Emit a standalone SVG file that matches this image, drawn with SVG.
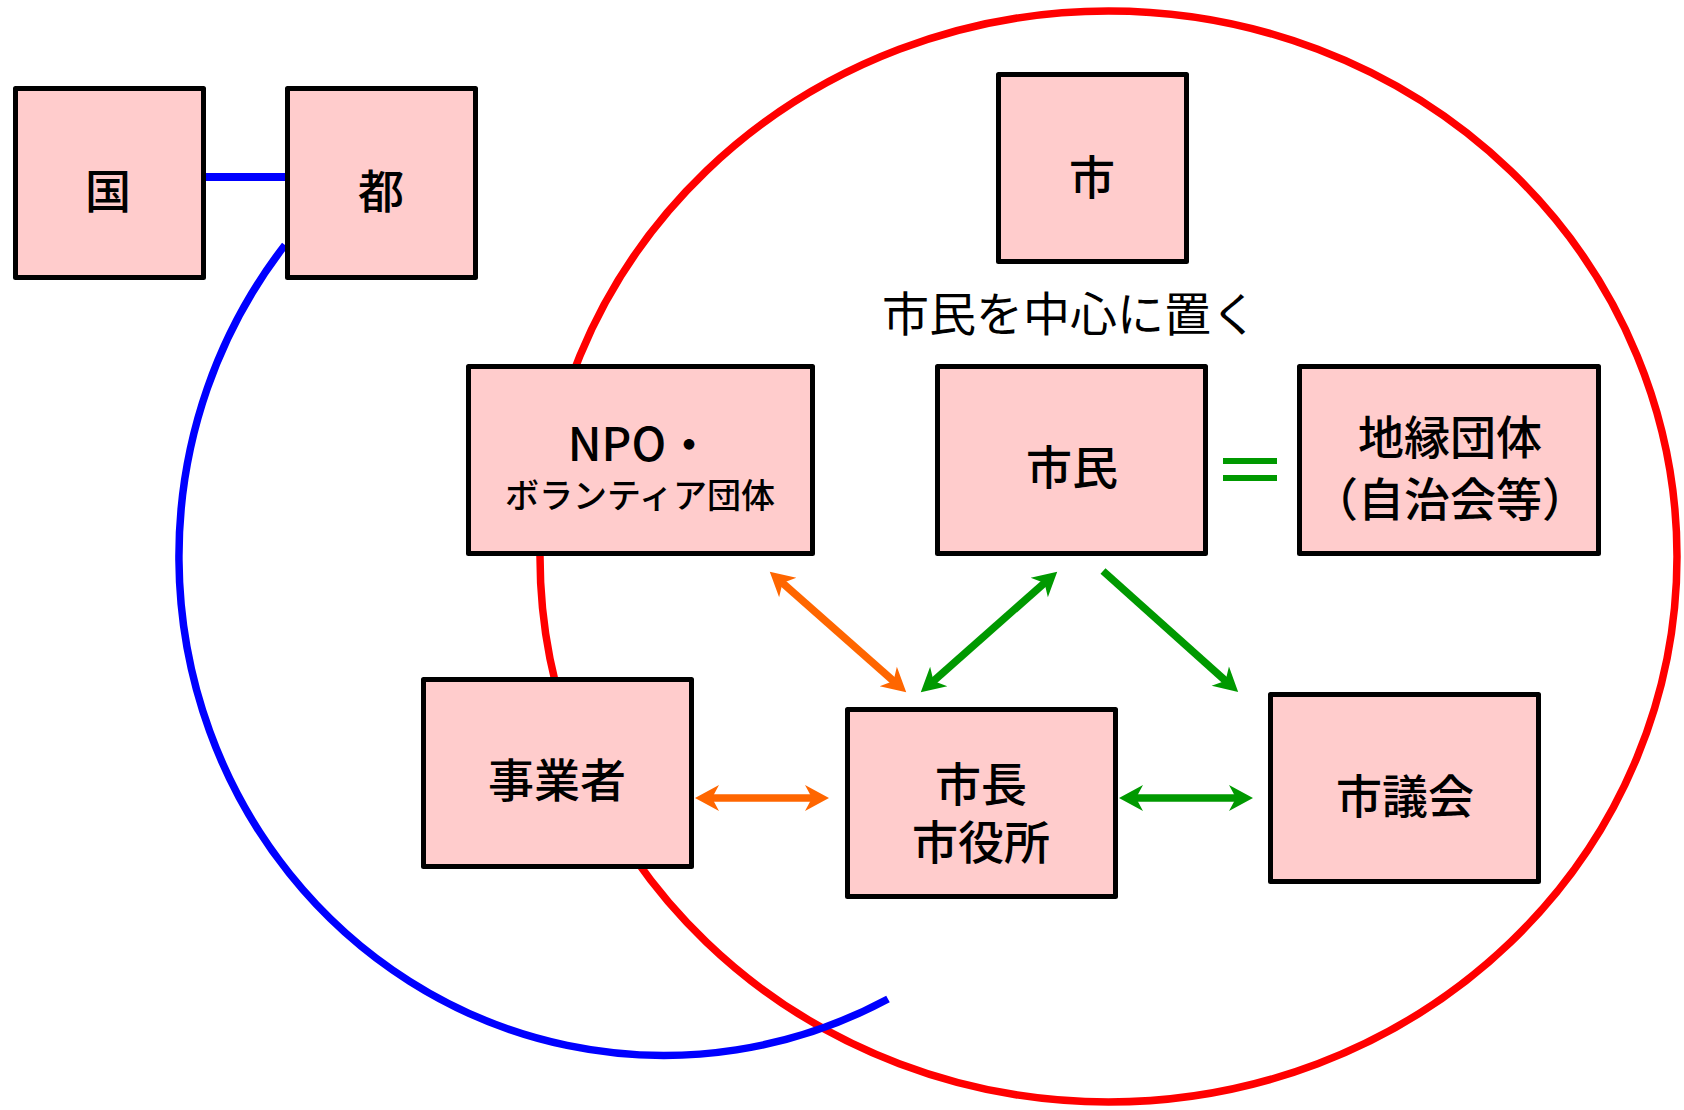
<svg xmlns="http://www.w3.org/2000/svg" width="1684" height="1110" viewBox="0 0 1684 1110">
<style>
.box{fill:#FFCCCC;stroke:#000;stroke-width:5;stroke-linejoin:round}
.lbl{font-family:"Noto Sans CJK JP","Noto Sans CJK SC",sans-serif;font-weight:500;font-size:46px;fill:#000;text-anchor:middle;dominant-baseline:central}
.sm{font-size:34px}
.cap{font-family:"Noto Sans CJK JP","Noto Sans CJK SC",sans-serif;font-weight:400;font-size:47px;fill:#000;text-anchor:middle;dominant-baseline:central}
.or{stroke:#FF6600;stroke-width:7.5;fill:none}
.gr{stroke:#009900;stroke-width:7.5;fill:none}
</style>
<defs>
<marker id="ao" markerUnits="userSpaceOnUse" markerWidth="26" markerHeight="26" refX="10" refY="13" orient="auto-start-reverse"><path d="M25,13 L1,0 L8,13 L1,26 Z" fill="#FF6600"/></marker>
<marker id="ag" markerUnits="userSpaceOnUse" markerWidth="26" markerHeight="26" refX="10" refY="13" orient="auto-start-reverse"><path d="M25,13 L1,0 L8,13 L1,26 Z" fill="#009900"/></marker>
</defs>
<g id="circles">
<ellipse cx="1108.5" cy="556.5" rx="568.5" ry="545.5" fill="none" stroke="#FF0000" stroke-width="7.5"/>
<path d="M285,245 A485,499 0 0 0 888,999" fill="none" stroke="#0000FF" stroke-width="7.5"/>
<line x1="206" y1="177" x2="285" y2="177" stroke="#0000FF" stroke-width="8"/>
</g>
<g id="connectors">
<line class="or" x1="781" y1="581.6" x2="895" y2="682.4" marker-start="url(#ao)" marker-end="url(#ao)"/>
<line class="or" x1="710" y1="798" x2="814" y2="798" marker-start="url(#ao)" marker-end="url(#ao)"/>
<line class="gr" x1="932" y1="682.4" x2="1046" y2="581.6" marker-start="url(#ag)" marker-end="url(#ag)"/>
<line class="gr" x1="1103" y1="571" x2="1227" y2="682.1" marker-end="url(#ag)"/>
<line class="gr" x1="1134" y1="798" x2="1238" y2="798" marker-start="url(#ag)" marker-end="url(#ag)"/>
<g id="equals" stroke="#009900" stroke-width="6">
<line x1="1223" y1="461" x2="1277" y2="461"/>
<line x1="1223" y1="478" x2="1277" y2="478"/>
</g>
</g>
<g id="kuni"><rect class="box" x="15.5" y="88.5" width="188" height="189"/><text class="lbl" x="108" y="188">国</text></g>
<g id="to"><rect class="box" x="287.5" y="88.5" width="188" height="189"/><text class="lbl" x="381" y="188">都</text></g>
<g id="shi"><rect class="box" x="998.5" y="74.5" width="188" height="187"/><text class="lbl" x="1092" y="174">市</text></g>
<g id="caption"><text class="cap" x="1070" y="310">市民を中心に置く</text></g>
<g id="npo"><rect class="box" x="468.5" y="366.5" width="344" height="187"/><text class="lbl" x="640" y="441">NPO・</text><text class="lbl sm" x="640" y="493">ボランティア団体</text></g>
<g id="shimin"><rect class="box" x="937.5" y="366.5" width="268" height="187"/><text class="lbl" x="1072" y="464">市民</text></g>
<g id="chien"><rect class="box" x="1299.5" y="366.5" width="299" height="187"/><text class="lbl" x="1450" y="434">地縁団体</text><text class="lbl" x="1450" y="496">（自治会等）</text></g>
<g id="jigyosha"><rect class="box" x="423.5" y="679.5" width="268" height="187"/><text class="lbl" x="557" y="777">事業者</text></g>
<g id="shicho"><rect class="box" x="847.5" y="709.5" width="268" height="187"/><text class="lbl" x="981" y="781">市長</text><text class="lbl" x="981" y="839">市役所</text></g>
<g id="gikai"><rect class="box" x="1270.5" y="694.5" width="268" height="187"/><text class="lbl" x="1405" y="793">市議会</text></g>
</svg>
